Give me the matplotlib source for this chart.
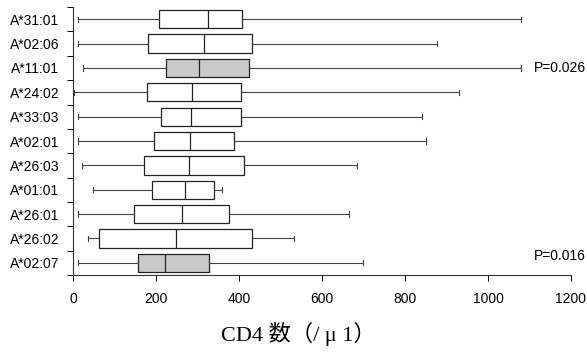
import matplotlib
matplotlib.use("Agg")
import matplotlib.pyplot as plt
import matplotlib.transforms as mtransforms
from matplotlib.ticker import FixedLocator

# Data (CD4 counts per HLA-A allele), top to bottom
alleles = ["A*31:01", "A*02:06", "A*11:01", "A*24:02", "A*33:03", "A*02:01",
           "A*26:03", "A*01:01", "A*26:01", "A*26:02", "A*02:07"]
whislo = [13, 11, 23, 2, 13, 11, 22, 47, 13, 35, 13]
q1 = [208, 181, 225, 178, 213, 194, 171, 190, 148, 63, 156]
med = [326, 316, 304, 286, 284, 283, 279, 270, 262, 247, 221]
q3 = [408, 432, 423, 404, 404, 389, 413, 340, 375, 432, 328]
whishi = [1080, 878, 1080, 931, 842, 851, 685, 359, 664, 533, 700]
shaded = ["A*11:01", "A*02:07"]
pvalues = {"A*11:01": "P=0.026", "A*02:07": "P=0.016"}
xticks = [0, 200, 400, 600, 800, 1000, 1200]

plt.rcParams['font.family'] = ['Liberation Sans', 'DejaVu Sans']

fig = plt.figure(figsize=(5.87, 3.55), dpi=100)
ax = fig.add_axes([0.1244, 0.2254, 0.8483, 0.7546])

n = len(alleles)
positions = list(range(1, n + 1))
stats = []
for i in range(n):
    stats.append(dict(label=alleles[i], whislo=whislo[i], q1=q1[i], med=med[i],
                      q3=q3[i], whishi=whishi[i], fliers=[]))

bp = ax.bxp(stats, positions=positions, vert=False, widths=0.75,
            capwidths=0.22, patch_artist=True, showfliers=False,
            boxprops=dict(edgecolor='#222222', linewidth=0.9),
            medianprops=dict(color='#222222', linewidth=0.9),
            whiskerprops=dict(color='#444444', linewidth=0.8),
            capprops=dict(color='#444444', linewidth=0.8))
for patch, name in zip(bp['boxes'], alleles):
    patch.set_facecolor('#c9c9c9' if name in shaded else 'white')

ax.set_ylim(n + 0.5, 0.5)
ax.set_xlim(0, 1200)
ax.set_xticks(xticks)
ax.set_xticklabels([str(t) for t in xticks])
ax.set_yticks(positions)
ax.set_yticklabels(alleles)
ax.yaxis.set_minor_locator(FixedLocator([p + 0.5 for p in range(0, n + 1)]))

ax.tick_params(axis='y', which='major', length=0, pad=10, labelsize=10)
ax.tick_params(axis='y', which='minor', length=4, width=0.7, direction='out')
ax.tick_params(axis='x', which='major', length=4, width=0.7, direction='out',
               pad=8, labelsize=10)

for s in ['top', 'right']:
    ax.spines[s].set_visible(False)
for s in ['left', 'bottom']:
    ax.spines[s].set_linewidth(0.8)
    ax.spines[s].set_color('#333333')

# p-values at the right edge of the figure
trans = mtransforms.blended_transform_factory(fig.transFigure, ax.transData)
for name, txt in pvalues.items():
    idx = alleles.index(name) + 1
    dy = 0 if idx < n else -0.3
    ax.text(586 / 587, idx + dy, txt, transform=trans,
            ha='right', va='center', fontsize=10)

fig.text(298 / 587, 1 - 334 / 355, "CD4 数（/ μ 1）", ha='center', va='center',
         fontsize=16, family=['Liberation Serif', 'Noto Sans CJK JP'])

fig.savefig("out.png", dpi=100)
